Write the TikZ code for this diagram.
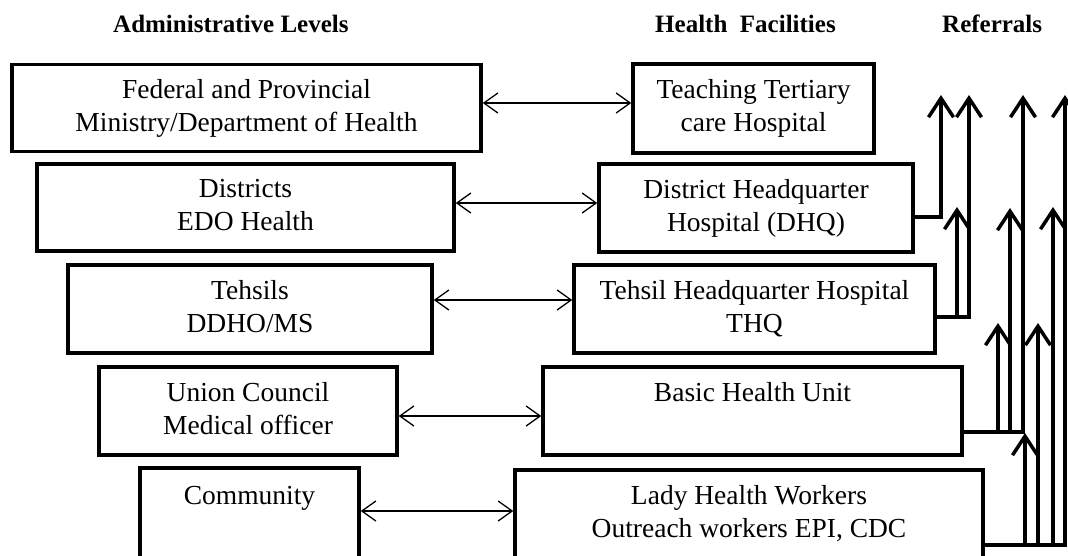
\documentclass[tikz,border=0pt]{standalone}
\usepackage{fontspec}
\setmainfont{Liberation Serif}
\usetikzlibrary{arrows.meta}
\begin{document}
\begin{tikzpicture}[x=1pt,y=-1pt,
  box/.style={draw, line width=3.5pt, align=center, inner sep=0pt,
    font=\fontsize{27.5}{33}\selectfont},
  dbl/.style={{Straight Barb[length=14pt,width=20pt]}-{Straight Barb[length=14pt,width=20pt]}, line width=1.3pt},
  ref/.style={-{Straight Barb[length=19pt,width=25pt]}, line width=3.5pt},
  hdr/.style={font=\fontsize{25}{30}\selectfont\bfseries, anchor=base west, inner sep=0pt}]
\useasboundingbox (0,0) rectangle (1068,555);
\clip (0,0) rectangle (1068,555);

% headers
\node[hdr] (h1) at (113,32) {Administrative Levels};
\node[hdr] (h2) at (655,32) {Health~ Facilities};
\node[hdr] (h3) at (942,32) {Referrals};

% administrative levels
\node[box, minimum width=469pt, minimum height=87pt] (fed) at (246.5,108)
  {\strut Federal and Provincial\\\strut Ministry/Department of Health};
\node[box, minimum width=417pt, minimum height=87pt] (dist) at (245.5,207.5)
  {\strut Districts\\\strut EDO Health};
\node[box, minimum width=364pt, minimum height=88pt] (teh) at (250,309)
  {\strut Tehsils\\\strut DDHO/MS};
\node[box, minimum width=298pt, minimum height=88pt] (uc) at (248,411)
  {\strut Union Council\\\strut Medical officer};
\node[box, minimum width=219pt, minimum height=124.8pt] (com) at (249.5,530.4)
  {\strut Community\\\strut\\\strut};

% health facilities
\node[box, minimum width=241pt, minimum height=89pt] (teach) at (753.5,108.5)
  {\strut Teaching Tertiary\\\strut care Hospital};
\node[box, minimum width=314pt, minimum height=88pt] (dhq) at (756,208)
  {\strut District Headquarter\\\strut Hospital (DHQ)};
\node[box, minimum width=361pt, minimum height=88pt] (thq) at (754.5,309)
  {\strut Tehsil Headquarter Hospital\\\strut THQ};
\node[box, minimum width=419pt, minimum height=88pt] (bhu) at (752.5,411)
  {\strut Basic Health Unit\\\strut};
\node[box, minimum width=468pt, minimum height=120.8pt] (lhw) at (749,530.4)
  {\strut Lady Health Workers\\\strut Outreach workers EPI, CDC\\\strut};

% two-way links
\draw[dbl] (fed.east |- 0,103) -- (teach.west |- 0,103);
\draw[dbl] (dist.east |- 0,203) -- (dhq.west |- 0,203);
\draw[dbl] (teh.east |- 0,300) -- (thq.west |- 0,300);
\draw[dbl] (uc.east |- 0,416) -- (bhu.west |- 0,416);
\draw[dbl] (com.east |- 0,511) -- (lhw.west |- 0,511);

% referral tips
\coordinate (d1) at (941,95);
\coordinate (t1) at (957,207);
\coordinate (t2) at (969,95);
\coordinate (b1) at (998,323);
\coordinate (b2) at (1010,208);
\coordinate (b3) at (1023,95);
\coordinate (l1) at (1025,433);
\coordinate (l2) at (1038,323);
\coordinate (l3) at (1053,207);
\coordinate (l4) at (1065,95);

% referrals
\draw[ref] (dhq.east |- 0,217) -| (d1);
\draw[ref] (thq.east |- 0,317) -| (t1);
\draw[ref] (thq.east |- 0,317) -| (t2);
\draw[ref] (bhu.east |- 0,432) -| (b1);
\draw[ref] (bhu.east |- 0,432) -| (b2);
\draw[ref] (bhu.east |- 0,432) -| (b3);
\draw[ref] (lhw.east |- 0,545) -| (l1);
\draw[ref] (lhw.east |- 0,545) -| (l2);
\draw[ref] (lhw.east |- 0,545) -| (l3);
\draw[ref] (lhw.east |- 0,545) -| (l4);
\end{tikzpicture}
\end{document}
